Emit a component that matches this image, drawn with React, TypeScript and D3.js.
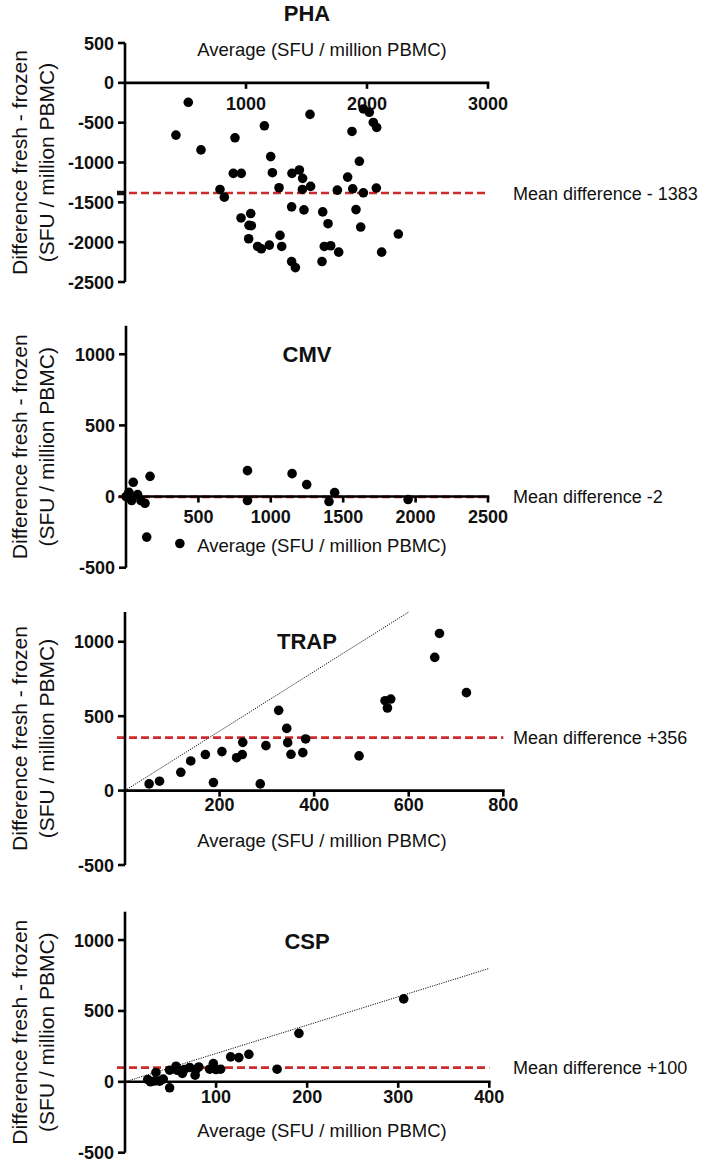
import React from "react";
import * as d3 from "d3";

// ---------- DATA ----------
const phaAvg = [523, 421, 628, 909, 895, 961, 1152, 1204, 1218, 1273, 785, 821, 959, 1039, 1025, 1044, 1022, 1096, 1127, 1193, 1281, 1295, 1380, 1441, 1468, 1466, 1534, 1377, 1377, 1408, 1529, 1479, 1634, 1678, 1647, 1700, 1766, 1628, 1755, 1876, 1937, 1840, 1882, 1970, 1909, 1948, 1970, 2019, 2052, 2080, 2077, 2121, 2259];
const phaDiff = [-244, -656, -842, -690, -1136, -1136, -539, -926, -1128, -1317, -1338, -1435, -1696, -1641, -1789, -1793, -1957, -2054, -2083, -2037, -1915, -2054, -1136, -1094, -1199, -1338, -1300, -1557, -2243, -2319, -396, -1595, -1620, -1768, -2054, -2045, -2125, -2243, -1347, -610, -985, -1183, -1330, -1380, -1591, -1810, -328, -370, -497, -560, -1321, -2125, -1898];

const cmvAvg = [0, 10, 20, 39, 50, 80, 103, 131, 166, 143, 372, 839, 839, 1147, 1248, 1402, 1441, 1948];
const cmvDiff = [0, 5, 30, -28, 100, 14, -28, -47, 142, -285, -330, 182, -28, 161, 84, -35, 28, -21];

const trapAvg = [51, 73, 118, 139, 170, 187, 205, 236, 248, 249, 286, 298, 325, 342, 344, 351, 376, 382, 495, 550, 555, 562, 655, 665, 722];
const trapDiff = [45, 63, 123, 199, 242, 54, 262, 221, 242, 324, 45, 302, 539, 418, 322, 244, 255, 347, 233, 604, 555, 615, 895, 1056, 658];

const cspAvg = [25, 28, 33, 34, 38, 42, 49, 49, 56, 57, 63, 65, 71, 77, 78, 81, 93, 97, 100, 105, 116, 125, 136, 167, 191, 306];
const cspDiff = [16, 0, 7, 66, 5, 19, 82, -42, 110, 82, 59, 87, 101, 47, 87, 105, 89, 129, 87, 89, 176, 171, 194, 89, 342, 585];

const phaTitle = "PHA";
const cmvTitle = "CMV";
const trapTitle = "TRAP";
const cspTitle = "CSP";

const phaMean = -1383;
const cmvMean = -2;
const trapMean = 356;
const cspMean = 100;

const phaMeanLabel = "Mean difference - 1383";
const cmvMeanLabel = "Mean difference -2";
const trapMeanLabel = "Mean difference +356";
const cspMeanLabel = "Mean difference +100";

const phaXTicks = [1000, 2000, 3000];
const cmvXTicks = [500, 1000, 1500, 2000, 2500];
const trapXTicks = [200, 400, 600, 800];
const cspXTicks = [100, 200, 300, 400];

const phaYTicks = [500, 0, -500, -1000, -1500, -2000, -2500];
const otherYTicks = [1000, 500, 0, -500];

const xAxisTitle = "Average (SFU / million PBMC)";
const yAxisTitle1 = "Difference fresh - frozen";
const yAxisTitle2 = "(SFU / million PBMC)";

// ---------- LAYOUT ----------
const FONT = "'Liberation Sans', Arial, Helvetica, sans-serif";
const RED = "#cc2b2b";

type PanelProps = {
  avg: number[];
  diff: number[];
  title: string;
  mean: number;
  meanLabel: string;
  xTicks: number[];
  yTicks: number[];
  xDomain: [number, number];
  yDomain: [number, number];
  xRange: [number, number];
  yRange: [number, number];
  tickLabelY: number;
  titleY: number;
  axisTitleY: number;
  identityMax?: number;
  meanTick?: boolean;
};

function Panel(p: PanelProps) {
  const x = d3.scaleLinear().domain(p.xDomain).range(p.xRange);
  const y = d3.scaleLinear().domain(p.yDomain).range(p.yRange);
  const ax = x(0);
  const ay = y(0);
  const yTop = y(p.yDomain[1]);
  const yBot = y(p.yDomain[0]);
  const xEnd = x(p.xDomain[1]);
  const yCenter = (yTop + yBot) / 2;
  const my = y(p.mean);
  return (
    <g>
      {/* y axis title */}
      <text
        transform={`translate(27,${yCenter}) rotate(-90)`}
        textAnchor="middle"
        fontSize={21}
        fontFamily={FONT}
        fill="#111"
      >
        {yAxisTitle1}
      </text>
      <text
        transform={`translate(54,${yCenter}) rotate(-90)`}
        textAnchor="middle"
        fontSize={21}
        fontFamily={FONT}
        fill="#111"
      >
        {yAxisTitle2}
      </text>
      {/* title */}
      <text x={307} y={p.titleY} textAnchor="middle" fontSize={22} fontWeight="bold" fontFamily={FONT} fill="#111">
        {p.title}
      </text>
      {/* x axis title */}
      <text x={322} y={p.axisTitleY} textAnchor="middle" fontSize={18.5} fontFamily={FONT} fill="#111">
        {xAxisTitle}
      </text>
      {/* identity line diff = 2*avg */}
      {p.identityMax !== undefined && (
        <line
          x1={x(0)}
          y1={y(0)}
          x2={x(p.identityMax)}
          y2={y(2 * p.identityMax)}
          stroke="#111"
          strokeWidth={1}
          strokeDasharray="1.2,1.2"
        />
      )}
      {/* mean line */}
      <line x1={ax - 8} x2={xEnd} y1={my} y2={my} stroke={RED} strokeWidth={2.6} strokeDasharray="8,4" />
      {p.meanTick && <line x1={ax - 8} x2={ax} y1={my} y2={my} stroke="#111" strokeWidth={4.5} />}
      <text x={513} y={my + 6.5} fontSize={18} fontFamily={FONT} fill="#111">
        {p.meanLabel}
      </text>
      {/* y axis */}
      <line x1={ax} x2={ax} y1={yTop} y2={yBot} stroke="#000" strokeWidth={2.6} />
      {p.yTicks.map((t) => (
        <g key={"y" + t}>
          <line x1={ax - 7} x2={ax} y1={y(t)} y2={y(t)} stroke="#000" strokeWidth={2.6} />
          <text x={ax - 11} y={y(t) + 6.5} textAnchor="end" fontSize={18} fontWeight="bold" fontFamily={FONT} fill="#111">
            {t}
          </text>
        </g>
      ))}
      {/* x axis */}
      <line x1={ax - 1.3} x2={xEnd + 1.3} y1={ay} y2={ay} stroke="#000" strokeWidth={2.6} />
      {p.xTicks.map((t) => (
        <g key={"x" + t}>
          <line x1={x(t)} x2={x(t)} y1={ay} y2={ay + 6} stroke="#000" strokeWidth={2.6} />
          <text x={x(t)} y={p.tickLabelY} textAnchor="middle" fontSize={18} fontWeight="bold" fontFamily={FONT} fill="#111">
            {t}
          </text>
        </g>
      ))}
      {/* points */}
      {p.avg.map((a, i) => (
        <circle key={i} cx={x(a)} cy={y(p.diff[i])} r={4.8} fill="#000" />
      ))}
    </g>
  );
}

export default function App() {
  return (
    <svg
      width={704}
      height={1167}
      viewBox="0 0 704 1167"
      style={{ position: "absolute", left: 0, top: 0, background: "#fff" }}
    >
      <rect x={0} y={0} width={704} height={1167} fill="#fff" />
      <Panel
        avg={phaAvg}
        diff={phaDiff}
        title={phaTitle}
        mean={phaMean}
        meanLabel={phaMeanLabel}
        xTicks={phaXTicks}
        yTicks={phaYTicks}
        xDomain={[0, 3000]}
        yDomain={[-2500, 500]}
        xRange={[125, 488]}
        yRange={[282, 43]}
        tickLabelY={109.5}
        titleY={21}
        axisTitleY={55.5}
        meanTick={true}
      />
      <Panel
        avg={cmvAvg}
        diff={cmvDiff}
        title={cmvTitle}
        mean={cmvMean}
        meanLabel={cmvMeanLabel}
        xTicks={cmvXTicks}
        yTicks={otherYTicks}
        xDomain={[0, 2500]}
        yDomain={[-500, 1200]}
        xRange={[126, 488]}
        yRange={[567.7, 325.8]}
        tickLabelY={523}
        titleY={361.5}
        axisTitleY={551.5}
      />
      <Panel
        avg={trapAvg}
        diff={trapDiff}
        title={trapTitle}
        mean={trapMean}
        meanLabel={trapMeanLabel}
        xTicks={trapXTicks}
        yTicks={otherYTicks}
        xDomain={[0, 800]}
        yDomain={[-500, 1200]}
        xRange={[125, 503.3]}
        yRange={[865, 612]}
        tickLabelY={811}
        titleY={649}
        axisTitleY={846.5}
        identityMax={600}
      />
      <Panel
        avg={cspAvg}
        diff={cspDiff}
        title={cspTitle}
        mean={cspMean}
        meanLabel={cspMeanLabel}
        xTicks={cspXTicks}
        yTicks={otherYTicks}
        xDomain={[0, 400]}
        yDomain={[-500, 1200]}
        xRange={[125, 489.3]}
        yRange={[1152.7, 911.7]}
        tickLabelY={1102.5}
        titleY={949}
        axisTitleY={1136.5}
        identityMax={400}
      />
    </svg>
  );
}
